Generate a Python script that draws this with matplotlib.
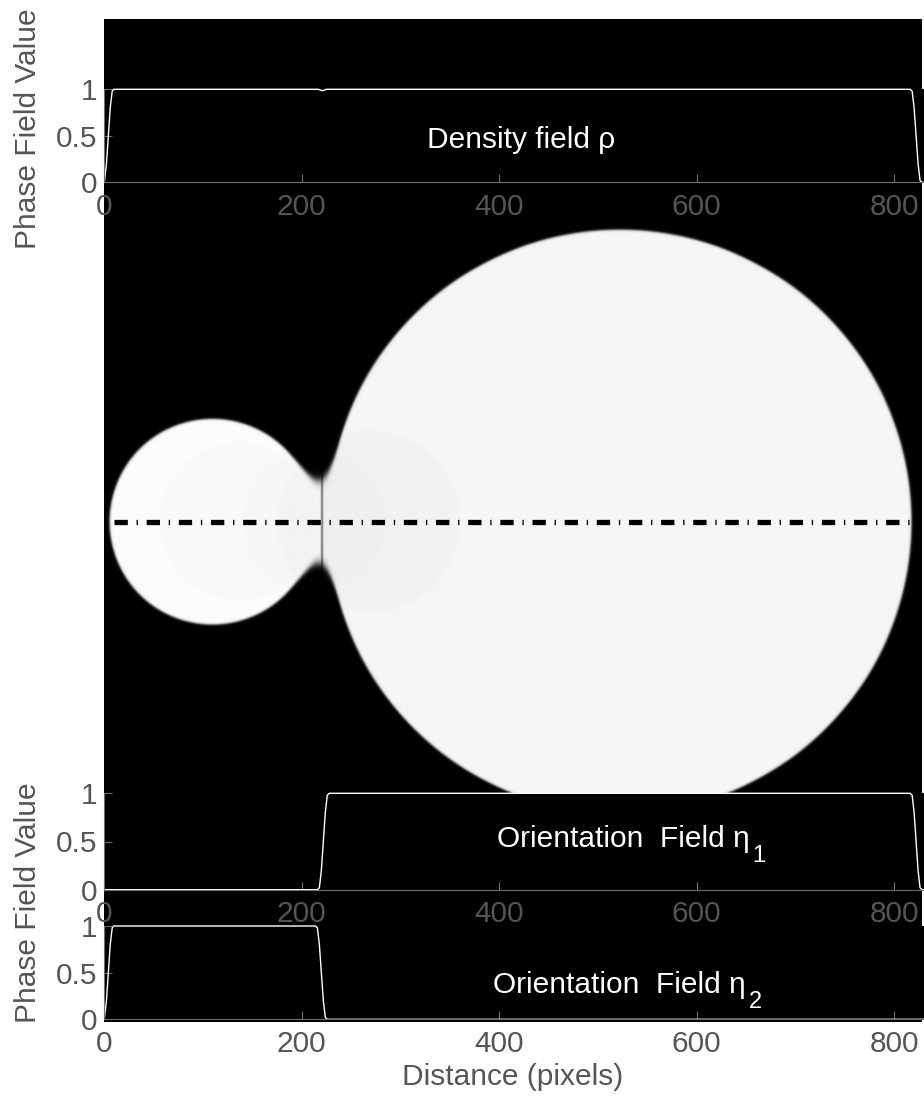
import numpy as np
import matplotlib
matplotlib.use('Agg')
import matplotlib.pyplot as plt
from matplotlib.transforms import offset_copy

plt.rcParams['font.family'] = ['Liberation Sans', 'DejaVu Sans']
plt.rcParams['lines.scale_dashes'] = False

# two sintering particles (centre x, centre y, radius) in simulation pixels
small_particle = (109.4, 0.0, 104.3)
big_particle = (522.3, 0.0, 295.7)
neck_smoothing = 47.0
grain_boundary_x = 220.5
grain_gray = [0.985, 0.962]          # left grain, right grain
faint_x = [135.7, 212.7, 268.0]      # faint shading rings inside the particles
faint_r = [79.0, 72.0, 92.0]
faint_dark = [0.010, 0.010, 0.014]
img_extent = [0, 828.4, -506.3, 509.4]

# line profiles along the centre line
rho_x = [0, 0.5, 2.5, 4.4, 6.3, 8.3, 10, 217, 219.5, 221, 222.5, 225,
         816, 818, 820, 822, 824, 826, 828, 830]
rho_y = [0, 0.02, 0.2, 0.5, 0.8, 0.98, 1, 1, 0.99, 0.985, 0.99, 1,
         1, 0.98, 0.8, 0.5, 0.2, 0.02, 0, 0]
eta1_x = [0, 216, 218, 220, 222, 224, 226, 228, 816, 818, 820, 822, 824, 826, 828, 830]
eta1_y = [0, 0, 0.02, 0.2, 0.5, 0.8, 0.98, 1, 1, 0.98, 0.8, 0.5, 0.2, 0.02, 0, 0]
eta2_x = [0, 0.5, 2.5, 4.4, 6.3, 8.3, 10, 214, 216, 218, 220, 222, 224, 226, 830]
eta2_y = [0, 0.02, 0.2, 0.5, 0.8, 0.98, 1, 1, 0.98, 0.8, 0.5, 0.2, 0.02, 0, 0]

xticks = [0, 200, 400, 600, 800]
yticks = [0, 0.5, 1]
ytick_labels = ['0', '0.5', '1']

# build the density image
xs = np.arange(img_extent[0], img_extent[1], 1.0)
ys = np.arange(img_extent[2], img_extent[3], 1.0)
X, Y = np.meshgrid(xs, ys)
d1 = np.hypot(X - small_particle[0], Y - small_particle[1]) - small_particle[2]
d2 = np.hypot(X - big_particle[0], Y - big_particle[1]) - big_particle[2]
k = neck_smoothing
h = np.maximum(k - np.abs(d1 - d2), 0) / k
d = np.minimum(d1, d2) - h * h * k / 4
rho = 0.5 * (1 - np.tanh(d / 1.3))
base = np.where(X < grain_boundary_x, grain_gray[0], grain_gray[1])
for fx, fr, fd in zip(faint_x, faint_r, faint_dark):
    inside = 0.5 * (1 - np.tanh((np.hypot(X - fx, Y) - fr) / 1.5))
    base = base - fd * inside
gb = 1 - 0.5 * np.exp(-((X - grain_boundary_x) / 1.2) ** 2)
img = rho * base * gb

fig = plt.figure(figsize=(9.24, 10.99), dpi=100)
W, H = 924.0, 1099.0

def px_axes(x0, y0, x1, y1):
    return fig.add_axes([x0 / W, 1 - y1 / H, (x1 - x0) / W, (y1 - y0) / H])

ax_img = px_axes(104, 19, 922, 1022)
ax_img.imshow(img, cmap='gray', vmin=0, vmax=1, extent=img_extent,
              origin='lower', aspect='auto', interpolation='antialiased')
ln, = ax_img.plot([10, 816], [0, 0], color='black', lw=3.8)
ln.set_dashes([9.6, 6.3, 0.95, 6.3])
ax_img.set_xlim(img_extent[0], img_extent[1])
ax_img.set_ylim(img_extent[2], img_extent[3])
ax_img.axis('off')

tick_col = '#555555'
spine_col = '#6e6e6e'
renderer = fig.canvas.get_renderer()

def line_axes(top, bottom, xs_, ys_, label, sub, lx, ly):
    ax = px_axes(104, top, 924, bottom)
    ax.set_facecolor('black')
    ax.plot(xs_, ys_, color='white', lw=1.0, clip_on=False)
    ax.set_xlim(0, 830)
    ax.set_ylim(0, 1)
    ax.set_xticks(xticks)
    ax.set_yticks(yticks)
    ax.set_yticklabels(ytick_labels)
    for s in ['top', 'right']:
        ax.spines[s].set_visible(False)
    for s in ['left', 'bottom']:
        ax.spines[s].set_color(spine_col)
        ax.spines[s].set_linewidth(0.8)
    ax.tick_params(direction='in', length=6, width=0.8, color=spine_col,
                   labelcolor=tick_col, labelsize=21.5)
    ax.tick_params(axis='x', pad=7.5)
    ax.tick_params(axis='y', pad=5)
    t = ax.text(lx, ly, label, color='white', fontsize=21.5, ha='left', va='baseline')
    if sub:
        bb = t.get_window_extent(renderer)
        tr = offset_copy(ax.transData, fig=fig, x=bb.width * 72 / 100 + 2,
                         y=-15 * 72 / 100, units='points')
        ax.text(lx, ly, sub, color='white', fontsize=17, ha='left',
                va='baseline', transform=tr)
    return ax

line_axes(89.3, 182.3, rho_x, rho_y, 'Density field ρ', None, 327, 0.366)
line_axes(793.3, 889.7, eta1_x, eta1_y, 'Orientation  Field η', '1', 398, 0.443)
line_axes(926.0, 1019.3, eta2_x, eta2_y, 'Orientation  Field η', '2', 394, 0.28)

fig.text(28 / W, 1 - 129 / H, 'Phase Field Value', rotation=90, ha='center',
         va='center', color=tick_col, fontsize=21.5)
fig.text(28 / W, 1 - 903 / H, 'Phase Field Value', rotation=90, ha='center',
         va='center', color=tick_col, fontsize=21.5)
fig.text(513 / W, 1 - 1085 / H, 'Distance (pixels)', ha='center',
         va='baseline', color=tick_col, fontsize=21.5)

fig.savefig('out.png', dpi=100, facecolor='white')
